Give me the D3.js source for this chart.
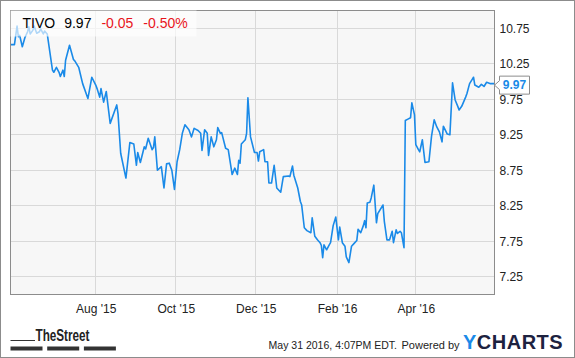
<!DOCTYPE html>
<html>
<head>
<meta charset="utf-8">
<script src="https://cdn.jsdelivr.net/npm/d3@7"></script>
<style>
  html, body { margin: 0; padding: 0; background: #fff; }
  svg { display: block; font-family: "Liberation Sans", Arial, sans-serif; }
</style>
</head>
<body>
<div id="chart"></div>
<script>
// TIVO daily close
const dates = [
  "2015-05-28","2015-05-31","2015-06-02","2015-06-03","2015-06-04","2015-06-06","2015-06-08","2015-06-10",
  "2015-06-11","2015-06-12","2015-06-14","2015-06-15","2015-06-17","2015-06-19","2015-06-20","2015-06-22",
  "2015-06-23","2015-06-25","2015-06-29","2015-06-30","2015-07-02","2015-07-04","2015-07-05","2015-07-07",
  "2015-07-08","2015-07-09","2015-07-12","2015-07-15","2015-07-16","2015-07-19","2015-07-22","2015-07-26",
  "2015-07-29","2015-08-01","2015-08-02","2015-08-04","2015-08-05","2015-08-07","2015-08-09","2015-08-12",
  "2015-08-17","2015-08-18","2015-08-20","2015-08-24","2015-08-27","2015-08-30","2015-09-01","2015-09-02",
  "2015-09-04","2015-09-07","2015-09-08","2015-09-10","2015-09-13","2015-09-14","2015-09-15","2015-09-17",
  "2015-09-20","2015-09-22","2015-09-24","2015-09-26","2015-09-28","2015-09-30","2015-10-02","2015-10-04",
  "2015-10-06","2015-10-08","2015-10-11","2015-10-13","2015-10-15","2015-10-18","2015-10-20","2015-10-21",
  "2015-10-23","2015-10-25","2015-10-26","2015-10-28","2015-10-30","2015-11-01","2015-11-02","2015-11-04",
  "2015-11-05","2015-11-08","2015-11-10","2015-11-13","2015-11-15","2015-11-17","2015-11-18","2015-11-19",
  "2015-11-20","2015-11-23","2015-11-24","2015-11-25","2015-11-27","2015-11-30","2015-12-02","2015-12-03",
  "2015-12-04","2015-12-07","2015-12-08","2015-12-10","2015-12-11","2015-12-13","2015-12-15","2015-12-17",
  "2015-12-20","2015-12-22","2015-12-26","2015-12-27","2015-12-29","2015-12-30","2016-01-02","2016-01-04",
  "2016-01-05","2016-01-07","2016-01-09","2016-01-12","2016-01-13","2016-01-15","2016-01-17","2016-01-19",
  "2016-01-20","2016-01-21","2016-01-22","2016-01-24","2016-01-26","2016-01-27","2016-01-29","2016-01-31",
  "2016-02-02","2016-02-03","2016-02-05","2016-02-07","2016-02-08","2016-02-10","2016-02-12","2016-02-14",
  "2016-02-16","2016-02-17","2016-02-19","2016-02-21","2016-02-22","2016-02-23","2016-02-24","2016-02-26",
  "2016-02-27","2016-02-29","2016-03-02","2016-03-03","2016-03-07","2016-03-08","2016-03-10","2016-03-12",
  "2016-03-14","2016-03-15","2016-03-17","2016-03-18","2016-03-20","2016-03-21","2016-03-23","2016-03-24",
  "2016-03-26","2016-03-28","2016-03-29","2016-03-31","2016-04-01","2016-04-03","2016-04-04","2016-04-06",
  "2016-04-08","2016-04-11","2016-04-13","2016-04-15","2016-04-17","2016-04-19","2016-04-21","2016-04-22",
  "2016-04-25","2016-04-27","2016-04-29","2016-05-01","2016-05-03","2016-05-04","2016-05-06","2016-05-09",
  "2016-05-10","2016-05-12","2016-05-14","2016-05-15","2016-05-16","2016-05-19","2016-05-21","2016-05-23",
  "2016-05-25","2016-05-28","2016-05-31"
];
const prices = [
  10.52,10.52,10.78,10.63,10.65,10.49,10.62,10.70,
  10.77,10.67,10.72,10.78,10.68,10.70,10.74,10.67,
  10.71,10.67,10.16,10.13,10.20,10.13,10.07,10.16,
  10.07,10.30,10.51,10.31,10.29,10.20,9.97,9.76,
  10.06,9.95,9.90,9.78,9.90,9.71,9.86,9.41,
  9.67,9.54,8.99,8.64,9.14,9.12,8.82,9.00,
  8.86,9.08,9.05,9.20,9.04,9.07,9.22,8.75,
  8.80,8.50,8.84,8.85,8.75,8.48,8.87,9.04,
  9.27,9.39,9.32,9.22,9.34,9.31,9.27,9.03,
  9.32,9.27,8.96,9.22,9.08,9.18,9.35,9.27,
  9.28,9.06,9.04,8.69,8.78,8.69,8.89,8.85,
  9.12,9.18,9.27,9.77,9.22,9.00,9.00,8.88,
  9.01,9.04,8.87,8.87,8.57,8.57,8.82,8.50,
  8.44,8.66,8.67,8.66,8.81,8.68,8.50,8.31,
  8.26,7.94,7.90,7.87,8.08,7.82,7.77,7.73,
  7.69,7.52,7.70,7.63,7.70,7.73,7.97,8.09,
  7.77,7.95,7.73,7.68,7.53,7.45,7.68,7.72,
  7.76,7.92,7.87,7.97,8.04,7.94,8.29,8.30,
  8.36,8.54,8.01,8.14,8.26,8.03,7.77,7.77,
  7.89,7.73,7.91,7.86,7.89,7.87,7.66,9.45,
  9.47,9.49,9.70,9.53,9.11,9.04,9.01,9.18,
  8.86,8.87,9.23,9.46,9.36,9.29,9.15,9.37,
  9.26,9.25,9.98,9.74,9.65,9.60,9.65,9.78,
  9.83,9.97,10.03,10.06,9.95,9.92,9.96,9.93,
  9.99,9.97,9.97
];
const yTicks = [7.25, 7.75, 8.25, 8.75, 9.25, 9.75, 10.25, 10.75];
const xTicks = ["2015-08-01", "2015-10-01", "2015-12-01", "2016-02-01", "2016-04-01"];
const dateRange = ["2015-05-28", "2016-05-31"];
const priceRange = [7, 11];
const ticker = "TIVO";
const lastPrice = "9.97";
const change = "-0.05";
const changePct = "-0.50%";
const stamp = "May 31 2016, 4:07PM EDT.";

const W = 575, H = 358;
const plot = { left: 10.5, top: 10.5, right: 494.5, bottom: 294.5 };
const parse = d3.timeParse("%Y-%m-%d");
const series = dates.map((d, i) => ({ date: parse(d), value: prices[i] }));

const svg = d3.select("#chart").append("svg")
  .attr("width", W).attr("height", H);

svg.append("rect")
  .attr("x", 0.5).attr("y", 0.5)
  .attr("width", W - 1).attr("height", H - 1)
  .attr("fill", "#fff").attr("stroke", "#8c8c8c");

const x = d3.scaleTime()
  .domain(dateRange.map(parse))
  .range([plot.left, plot.right]);
const y = d3.scaleLinear()
  .domain(priceRange)
  .range([plot.bottom, plot.top]);

svg.append("rect")
  .attr("x", plot.left).attr("y", plot.top)
  .attr("width", plot.right - plot.left).attr("height", plot.bottom - plot.top)
  .attr("fill", "#f7f7f7");

// grid
const crisp = v => Math.round(v - 0.5) + 0.5;
svg.append("g").selectAll("line")
  .data(yTicks).join("line")
  .attr("x1", plot.left).attr("x2", plot.right)
  .attr("y1", d => crisp(y(d))).attr("y2", d => crisp(y(d)))
  .attr("stroke", "#d9d9d9");
svg.append("g").selectAll("line")
  .data(xTicks.map(parse)).join("line")
  .attr("x1", d => crisp(x(d))).attr("x2", d => crisp(x(d)))
  .attr("y1", plot.top).attr("y2", plot.bottom)
  .attr("stroke", "#d9d9d9");

// price line
const line = d3.line().x(d => x(d.date)).y(d => y(d.value));
svg.append("path")
  .datum(series)
  .attr("fill", "none")
  .attr("stroke", "#1a8ae8")
  .attr("stroke-width", 1.6)
  .attr("stroke-linejoin", "round")
  .attr("d", line);

svg.append("rect")
  .attr("x", plot.left).attr("y", plot.top)
  .attr("width", plot.right - plot.left).attr("height", plot.bottom - plot.top)
  .attr("fill", "none").attr("stroke", "#8c8c8c");

// axes
const yAxis = svg.append("g")
  .attr("transform", `translate(${plot.right + 5},0)`)
  .call(d3.axisRight(y).tickValues(yTicks).tickSize(0).tickPadding(0).tickFormat(d3.format(".2f")));
yAxis.select(".domain").remove();
yAxis.selectAll("text")
  .attr("font-size", 12).attr("font-family", "Liberation Sans, Arial, sans-serif")
  .attr("fill", "#222");

const xAxis = svg.append("g")
  .attr("transform", `translate(0,${plot.bottom + 6})`)
  .call(d3.axisBottom(x).tickValues(xTicks.map(parse)).tickSize(0).tickPadding(4)
    .tickFormat(d3.timeFormat("%b '%y")));
xAxis.select(".domain").remove();
xAxis.selectAll("text")
  .attr("font-size", 12).attr("font-family", "Liberation Sans, Arial, sans-serif")
  .attr("fill", "#222");

// quote header
svg.append("rect")
  .attr("x", plot.left).attr("y", plot.top)
  .attr("width", 186).attr("height", 26)
  .attr("fill", "#fff").attr("fill-opacity", 0.65);

const head = svg.append("text")
  .attr("x", 22.5).attr("y", 28)
  .attr("font-size", 14);
head.append("tspan").attr("fill", "#000").text(ticker);
head.append("tspan").attr("dx", 9).attr("fill", "#000").text(lastPrice);
head.append("tspan").attr("dx", 10).attr("fill", "#e8141b").text(change);
head.append("tspan").attr("dx", 10).attr("fill", "#e8141b").text(changePct);

// last price callout
const last = series[series.length - 1];
const cy = y(last.value) + 1.5;
const bx0 = plot.right, bx1 = plot.right + 5, bx2 = plot.right + 35;
svg.append("path")
  .attr("d", `M${bx0},${cy} L${bx1},${cy - 4.5} V${cy - 9} H${bx2} V${cy + 9} H${bx1} V${cy + 4.5} Z`)
  .attr("fill", "#fff").attr("stroke", "#8c8c8c");
svg.append("text")
  .attr("x", (bx1 + bx2) / 2).attr("y", cy).attr("dy", "0.36em")
  .attr("text-anchor", "middle")
  .attr("font-size", 12).attr("font-weight", "bold")
  .attr("fill", "#1a8ae8")
  .text(d3.format(".2f")(last.value));

// footer: TheStreet
svg.append("line")
  .attr("x1", plot.left).attr("x2", 35)
  .attr("y1", 340.5).attr("y2", 340.5)
  .attr("stroke", "#333");
svg.append("text")
  .attr("x", 35.5).attr("y", 341)
  .attr("font-size", 16).attr("font-weight", "bold")
  .attr("font-family", "'Liberation Sans Narrow', 'Arial Narrow', 'Liberation Sans', sans-serif")
  .attr("textLength", 54).attr("lengthAdjust", "spacingAndGlyphs")
  .attr("fill", "#222")
  .text("TheStreet");
svg.append("g").selectAll("rect")
  .data([0, 1, 2]).join("rect")
  .attr("x", d => 10.5 + d * 36.7).attr("y", 346.5)
  .attr("width", 32).attr("height", 4)
  .attr("fill", "#333");

// footer: stamp and YCharts
svg.append("text")
  .attr("x", 397).attr("y", 349).attr("text-anchor", "end")
  .attr("font-size", 10.5).attr("fill", "#222")
  .text(stamp);
svg.append("text")
  .attr("x", 401.5).attr("y", 349)
  .attr("font-size", 11).attr("fill", "#222")
  .text("Powered by");
const yc = svg.append("text")
  .attr("x", 463).attr("y", 349.3)
  .attr("font-size", 20).attr("font-weight", "bold")
  .attr("letter-spacing", 0.5);
yc.append("tspan").attr("fill", "#1a8ae8").text("Y");
yc.append("tspan").attr("fill", "#1d2240").text("CHARTS");
</script>
</body>
</html>
